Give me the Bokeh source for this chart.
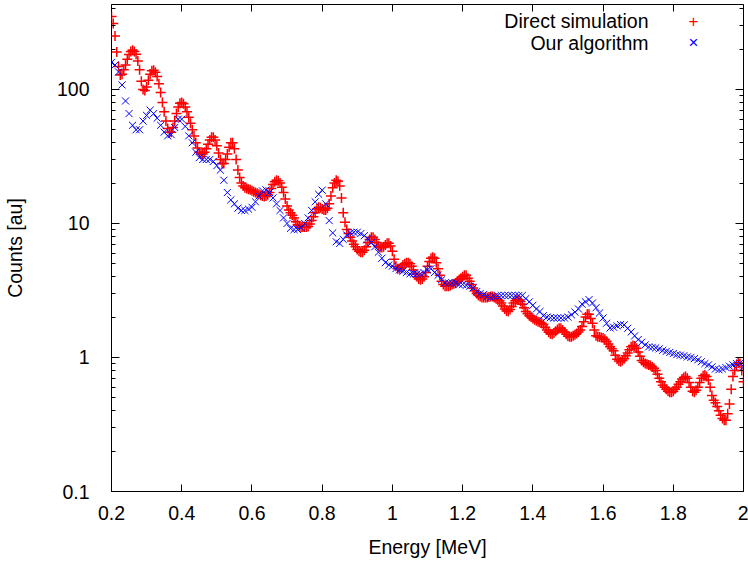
from bokeh.plotting import figure
from bokeh.models import (FixedTicker, CustomJSTickFormatter, LinearAxis, LogAxis,
                          Label, Range1d, ColumnDataSource)
from bokeh.embed import file_html
from bokeh.resources import INLINE

# ---- Direct simulation (fine energy grid, 0.005 MeV) ----
energy_direct = [
    0.200, 0.205, 0.210, 0.215, 0.220, 0.225, 0.230, 0.235, 0.240, 0.245,
    0.250, 0.255, 0.260, 0.265, 0.270, 0.275, 0.280, 0.285, 0.290, 0.295,
    0.300, 0.305, 0.310, 0.315, 0.320, 0.325, 0.330, 0.335, 0.340, 0.345,
    0.350, 0.355, 0.360, 0.365, 0.370, 0.375, 0.380, 0.385, 0.390, 0.395,
    0.400, 0.405, 0.410, 0.415, 0.420, 0.425, 0.430, 0.435, 0.440, 0.445,
    0.450, 0.455, 0.460, 0.465, 0.470, 0.475, 0.480, 0.485, 0.490, 0.495,
    0.500, 0.505, 0.510, 0.515, 0.520, 0.525, 0.530, 0.535, 0.540, 0.545,
    0.550, 0.555, 0.560, 0.565, 0.570, 0.575, 0.580, 0.585, 0.590, 0.595,
    0.600, 0.605, 0.610, 0.615, 0.620, 0.625, 0.630, 0.635, 0.640, 0.645,
    0.650, 0.655, 0.660, 0.665, 0.670, 0.675, 0.680, 0.685, 0.690, 0.695,
    0.700, 0.705, 0.710, 0.715, 0.720, 0.725, 0.730, 0.735, 0.740, 0.745,
    0.750, 0.755, 0.760, 0.765, 0.770, 0.775, 0.780, 0.785, 0.790, 0.795,
    0.800, 0.805, 0.810, 0.815, 0.820, 0.825, 0.830, 0.835, 0.840, 0.845,
    0.850, 0.855, 0.860, 0.865, 0.870, 0.875, 0.880, 0.885, 0.890, 0.895,
    0.900, 0.905, 0.910, 0.915, 0.920, 0.925, 0.930, 0.935, 0.940, 0.945,
    0.950, 0.955, 0.960, 0.965, 0.970, 0.975, 0.980, 0.985, 0.990, 0.995,
    1.000, 1.005, 1.010, 1.015, 1.020, 1.025, 1.030, 1.035, 1.040, 1.045,
    1.050, 1.055, 1.060, 1.065, 1.070, 1.075, 1.080, 1.085, 1.090, 1.095,
    1.100, 1.105, 1.110, 1.115, 1.120, 1.125, 1.130, 1.135, 1.140, 1.145,
    1.150, 1.155, 1.160, 1.165, 1.170, 1.175, 1.180, 1.185, 1.190, 1.195,
    1.200, 1.205, 1.210, 1.215, 1.220, 1.225, 1.230, 1.235, 1.240, 1.245,
    1.250, 1.255, 1.260, 1.265, 1.270, 1.275, 1.280, 1.285, 1.290, 1.295,
    1.300, 1.305, 1.310, 1.315, 1.320, 1.325, 1.330, 1.335, 1.340, 1.345,
    1.350, 1.355, 1.360, 1.365, 1.370, 1.375, 1.380, 1.385, 1.390, 1.395,
    1.400, 1.405, 1.410, 1.415, 1.420, 1.425, 1.430, 1.435, 1.440, 1.445,
    1.450, 1.455, 1.460, 1.465, 1.470, 1.475, 1.480, 1.485, 1.490, 1.495,
    1.500, 1.505, 1.510, 1.515, 1.520, 1.525, 1.530, 1.535, 1.540, 1.545,
    1.550, 1.555, 1.560, 1.565, 1.570, 1.575, 1.580, 1.585, 1.590, 1.595,
    1.600, 1.605, 1.610, 1.615, 1.620, 1.625, 1.630, 1.635, 1.640, 1.645,
    1.650, 1.655, 1.660, 1.665, 1.670, 1.675, 1.680, 1.685, 1.690, 1.695,
    1.700, 1.705, 1.710, 1.715, 1.720, 1.725, 1.730, 1.735, 1.740, 1.745,
    1.750, 1.755, 1.760, 1.765, 1.770, 1.775, 1.780, 1.785, 1.790, 1.795,
    1.800, 1.805, 1.810, 1.815, 1.820, 1.825, 1.830, 1.835, 1.840, 1.845,
    1.850, 1.855, 1.860, 1.865, 1.870, 1.875, 1.880, 1.885, 1.890, 1.895,
    1.900, 1.905, 1.910, 1.915, 1.920, 1.925, 1.930, 1.935, 1.940, 1.945,
    1.950, 1.955, 1.960, 1.965, 1.970, 1.975, 1.980, 1.985, 1.990, 1.995,
    2.000,
]

direct_simulation = [
    350, 310, 250, 190, 148, 128, 130, 140, 152, 168,
    182, 192, 196, 192, 183, 163, 140, 115, 100, 98,
    104, 117, 130, 138, 139, 134, 125, 110, 95, 80,
    68, 58, 51, 48, 48, 52, 58, 66, 74, 79,
    80, 78, 74, 68, 62, 56, 50, 45, 40, 36.5,
    34, 33, 33, 34, 36, 39, 42, 44, 44, 42,
    38, 33.5, 30, 28, 28, 30, 33, 37, 40, 40,
    36, 30, 25, 22, 20, 19, 18.5, 18.2, 18, 17.8,
    17.5, 17.2, 17, 16.8, 16.5, 16.2, 16, 15.9, 16, 16.4,
    17, 18.2, 19.5, 20.5, 21, 20.8, 20, 18.6, 17, 15.2,
    13.5, 12.6, 12, 11.5, 11, 10.3, 9.8, 9.6, 9.4, 9.4,
    9.4, 9.4, 9.5, 9.9, 10.5, 11.2, 12, 12.8, 13.2, 13.1,
    12.8, 12.6, 12.6, 13, 14, 16, 18.5, 20, 21, 20.6,
    19, 15.5, 12, 10.2, 9, 8.4, 7.9, 7.4, 7, 6.7,
    6.4, 6.2, 6.1, 6.1, 6.3, 6.7, 7.2, 7.6, 7.9, 7.9,
    7.6, 7.2, 6.8, 6.6, 6.6, 6.7, 6.9, 7.1, 7.1, 6.8,
    6.2, 5.4, 4.8, 4.6, 4.6, 4.7, 4.9, 5.0, 5.1, 5.1,
    5.0, 4.8, 4.5, 4.2, 4.0, 3.85, 3.8, 3.85, 4.0, 4.3,
    4.8, 5.2, 5.5, 5.6, 5.5, 5.1, 4.6, 4.1, 3.7, 3.5,
    3.4, 3.4, 3.4, 3.45, 3.5, 3.55, 3.6, 3.7, 3.8, 3.9,
    4.0, 4.1, 4.1, 3.9, 3.7, 3.5, 3.3, 3.15, 3.0, 2.9,
    2.85, 2.8, 2.8, 2.8, 2.8, 2.82, 2.85, 2.85, 2.8, 2.75,
    2.7, 2.65, 2.55, 2.42, 2.3, 2.22, 2.2, 2.28, 2.4, 2.55,
    2.65, 2.7, 2.7, 2.62, 2.5, 2.35, 2.2, 2.12, 2.05, 2.0,
    1.95, 1.91, 1.88, 1.85, 1.83, 1.8, 1.76, 1.68, 1.6, 1.54,
    1.5, 1.49, 1.52, 1.57, 1.62, 1.65, 1.65, 1.6, 1.55, 1.49,
    1.44, 1.43, 1.43, 1.45, 1.48, 1.51, 1.55, 1.6, 1.7, 1.85,
    2.0, 2.1, 2.1, 1.95, 1.8, 1.6, 1.45, 1.43, 1.42, 1.41,
    1.4, 1.37, 1.32, 1.26, 1.2, 1.16, 1.12, 1.04, 0.97, 0.94,
    0.93, 0.95, 0.98, 1.03, 1.08, 1.14, 1.2, 1.23, 1.22, 1.17,
    1.1, 1.02, 0.95, 0.92, 0.9, 0.89, 0.88, 0.87, 0.85, 0.83,
    0.8, 0.75, 0.7, 0.66, 0.62, 0.6, 0.58, 0.56, 0.55, 0.55,
    0.56, 0.58, 0.6, 0.63, 0.66, 0.69, 0.71, 0.72, 0.7, 0.65,
    0.6, 0.56, 0.55, 0.57, 0.6, 0.65, 0.7, 0.73, 0.74, 0.72,
    0.68, 0.6, 0.52, 0.48, 0.46, 0.43, 0.4, 0.37, 0.35, 0.34,
    0.34, 0.38, 0.45, 0.58, 0.72, 0.8, 0.88, 0.91, 0.9, 0.8,
    0.66,
]

# ---- Our algorithm (0.01 MeV grid) ----
energy_ours = [
    0.20, 0.21, 0.22, 0.23, 0.24, 0.25, 0.26, 0.27, 0.28, 0.29,
    0.30, 0.31, 0.32, 0.33, 0.34, 0.35, 0.36, 0.37, 0.38, 0.39,
    0.40, 0.41, 0.42, 0.43, 0.44, 0.45, 0.46, 0.47, 0.48, 0.49,
    0.50, 0.51, 0.52, 0.53, 0.54, 0.55, 0.56, 0.57, 0.58, 0.59,
    0.60, 0.61, 0.62, 0.63, 0.64, 0.65, 0.66, 0.67, 0.68, 0.69,
    0.70, 0.71, 0.72, 0.73, 0.74, 0.75, 0.76, 0.77, 0.78, 0.79,
    0.80, 0.81, 0.82, 0.83, 0.84, 0.85, 0.86, 0.87, 0.88, 0.89,
    0.90, 0.91, 0.92, 0.93, 0.94, 0.95, 0.96, 0.97, 0.98, 0.99,
    1.00, 1.01, 1.02, 1.03, 1.04, 1.05, 1.06, 1.07, 1.08, 1.09,
    1.10, 1.11, 1.12, 1.13, 1.14, 1.15, 1.16, 1.17, 1.18, 1.19,
    1.20, 1.21, 1.22, 1.23, 1.24, 1.25, 1.26, 1.27, 1.28, 1.29,
    1.30, 1.31, 1.32, 1.33, 1.34, 1.35, 1.36, 1.37, 1.38, 1.39,
    1.40, 1.41, 1.42, 1.43, 1.44, 1.45, 1.46, 1.47, 1.48, 1.49,
    1.50, 1.51, 1.52, 1.53, 1.54, 1.55, 1.56, 1.57, 1.58, 1.59,
    1.60, 1.61, 1.62, 1.63, 1.64, 1.65, 1.66, 1.67, 1.68, 1.69,
    1.70, 1.71, 1.72, 1.73, 1.74, 1.75, 1.76, 1.77, 1.78, 1.79,
    1.80, 1.81, 1.82, 1.83, 1.84, 1.85, 1.86, 1.87, 1.88, 1.89,
    1.90, 1.91, 1.92, 1.93, 1.94, 1.95, 1.96, 1.97, 1.98, 1.99,
    2.00,
]

our_algorithm = [
    159, 152, 135, 108, 82, 66, 54, 50, 50, 58,
    64, 70, 66, 61, 54, 48, 45, 46, 52, 60,
    60, 53, 45, 40, 34, 31, 30, 30, 30, 29,
    27, 25, 21, 17, 15, 14, 13, 12.5, 12.5, 12.8,
    13.2, 14.5, 16, 17.5, 17.8, 17, 15.5, 14, 12.5, 11,
    10, 9.2, 9, 9, 9.3, 10, 11, 12.5, 14.5, 16.5,
    17.7, 14, 10.5, 8.5, 7.3, 7.1, 7.6, 8.2, 8.5, 8.6,
    8.6, 8.4, 8.1, 7.7, 7.2, 6.7, 6.1, 5.5, 5.1, 4.9,
    4.8, 4.6, 4.5, 4.4, 4.3, 4.2, 4.2, 4.2, 4.2, 4.3,
    4.5, 4.6, 4.3, 4.1, 3.8, 3.6, 3.6, 3.6, 3.6, 3.5,
    3.5, 3.45, 3.4, 3.3, 3.1, 3.0, 2.95, 2.85, 2.8, 2.85,
    2.9, 2.9, 2.9, 2.9, 2.9, 2.9, 2.9, 2.9, 2.75, 2.6,
    2.45, 2.3, 2.2, 2.05, 2.0, 1.98, 1.97, 1.97, 1.97, 1.97,
    2.0, 2.08, 2.18, 2.3, 2.5, 2.6, 2.7, 2.55, 2.35, 2.15,
    1.97, 1.8, 1.66, 1.68, 1.72, 1.76, 1.75, 1.65, 1.55, 1.45,
    1.36, 1.3, 1.24, 1.2, 1.19, 1.18, 1.16, 1.13, 1.11, 1.09,
    1.07, 1.05, 1.04, 1.03, 1.01, 1.0, 0.98, 0.96, 0.93, 0.9,
    0.88, 0.85, 0.82, 0.81, 0.82, 0.84, 0.86, 0.88, 0.9, 0.91,
    0.85,
]

x_ticks = [0.2, 0.4, 0.6, 0.8, 1.0, 1.2, 1.4, 1.6, 1.8, 2.0]
y_ticks = [0.1, 1, 10, 100]
y_minor = [0.2, 0.3, 0.4, 0.5, 0.6, 0.7, 0.8, 0.9,
           2, 3, 4, 5, 6, 7, 8, 9,
           20, 30, 40, 50, 60, 70, 80, 90,
           200, 300, 400]
series_names = ["Direct simulation", "Our algorithm"]
series_colors = ["#ff0000", "#0000ff"]
legend_symbols = ["+", "\u00d7"]

FONT = "Liberation Sans"
FS = "19.5px"

p = figure(width=748, height=560, y_axis_type="log",
           x_range=Range1d(0.2, 2.0), y_range=Range1d(0.1, 430),
           output_backend="svg", toolbar_location=None,
           min_border_left=106, min_border_right=5, min_border_top=4,
           min_border_bottom=68)
p.background_fill_color = "white"
p.border_fill_color = "white"
p.outline_line_color = "black"
p.outline_line_width = 1
p.xgrid.visible = False
p.ygrid.visible = False

xt = FixedTicker(ticks=x_ticks, minor_ticks=[])
yt = FixedTicker(ticks=y_ticks, minor_ticks=y_minor)
xfmt = CustomJSTickFormatter(code="return String(Math.round(tick*10)/10);")
yfmt = CustomJSTickFormatter(code="return String(tick);")


def style(ax, labels=True, major=8, minor=4):
    ax.axis_line_color = None
    ax.major_tick_in = major
    ax.major_tick_out = 0
    ax.minor_tick_in = minor
    ax.minor_tick_out = 0
    ax.major_tick_line_color = "black"
    ax.minor_tick_line_color = "black"
    if labels:
        ax.major_label_text_font = FONT
        ax.major_label_text_font_size = FS
        ax.major_label_text_color = "black"
        ax.axis_label_text_font = FONT
        ax.axis_label_text_font_size = FS
        ax.axis_label_text_font_style = "normal"
        ax.axis_label_text_color = "black"
    else:
        ax.major_label_text_font_size = "0px"
        ax.major_label_text_alpha = 0
        ax.major_label_standoff = 0


xa = p.xaxis[0]
xa.ticker = xt
xa.formatter = xfmt
xa.axis_label = "Energy [MeV]"
style(xa, major=7)
xa.major_label_standoff = 14
xa.axis_label_standoff = 13

ya = p.yaxis[0]
ya.ticker = yt
ya.formatter = yfmt
ya.axis_label = "Counts [au]"
style(ya)
ya.major_label_standoff = 22
ya.axis_label_standoff = 28

top = LinearAxis(ticker=xt, formatter=xfmt)
style(top, labels=False, major=7)
p.add_layout(top, "above")
right = LogAxis(ticker=yt, formatter=yfmt)
style(right, labels=False)
p.add_layout(right, "right")

src_direct = ColumnDataSource(dict(energy=energy_direct, counts=direct_simulation))
src_ours = ColumnDataSource(dict(energy=energy_ours, counts=our_algorithm))
p.scatter("energy", "counts", source=src_direct, marker="cross", size=10,
          line_color=series_colors[0], line_width=1.5)
p.scatter("energy", "counts", source=src_ours, marker="x", size=10,
          line_color=series_colors[1], line_width=1)

# key: text right-aligned, then the symbol (gnuplot style)
for name, sym, col, yy in zip(series_names, legend_symbols, series_colors, [471, 449]):
    p.add_layout(Label(x=537, y=yy, x_units="screen", y_units="screen",
                       text=name, text_align="right", text_baseline="alphabetic",
                       text_font=FONT, text_font_size=FS, text_color="black"))
    p.add_layout(Label(x=582, y=yy, x_units="screen", y_units="screen",
                       text=sym, text_align="center", text_baseline="alphabetic",
                       text_font=FONT, text_font_size="17px", text_color=col))

open("out.html", "w").write(file_html(p, INLINE))
